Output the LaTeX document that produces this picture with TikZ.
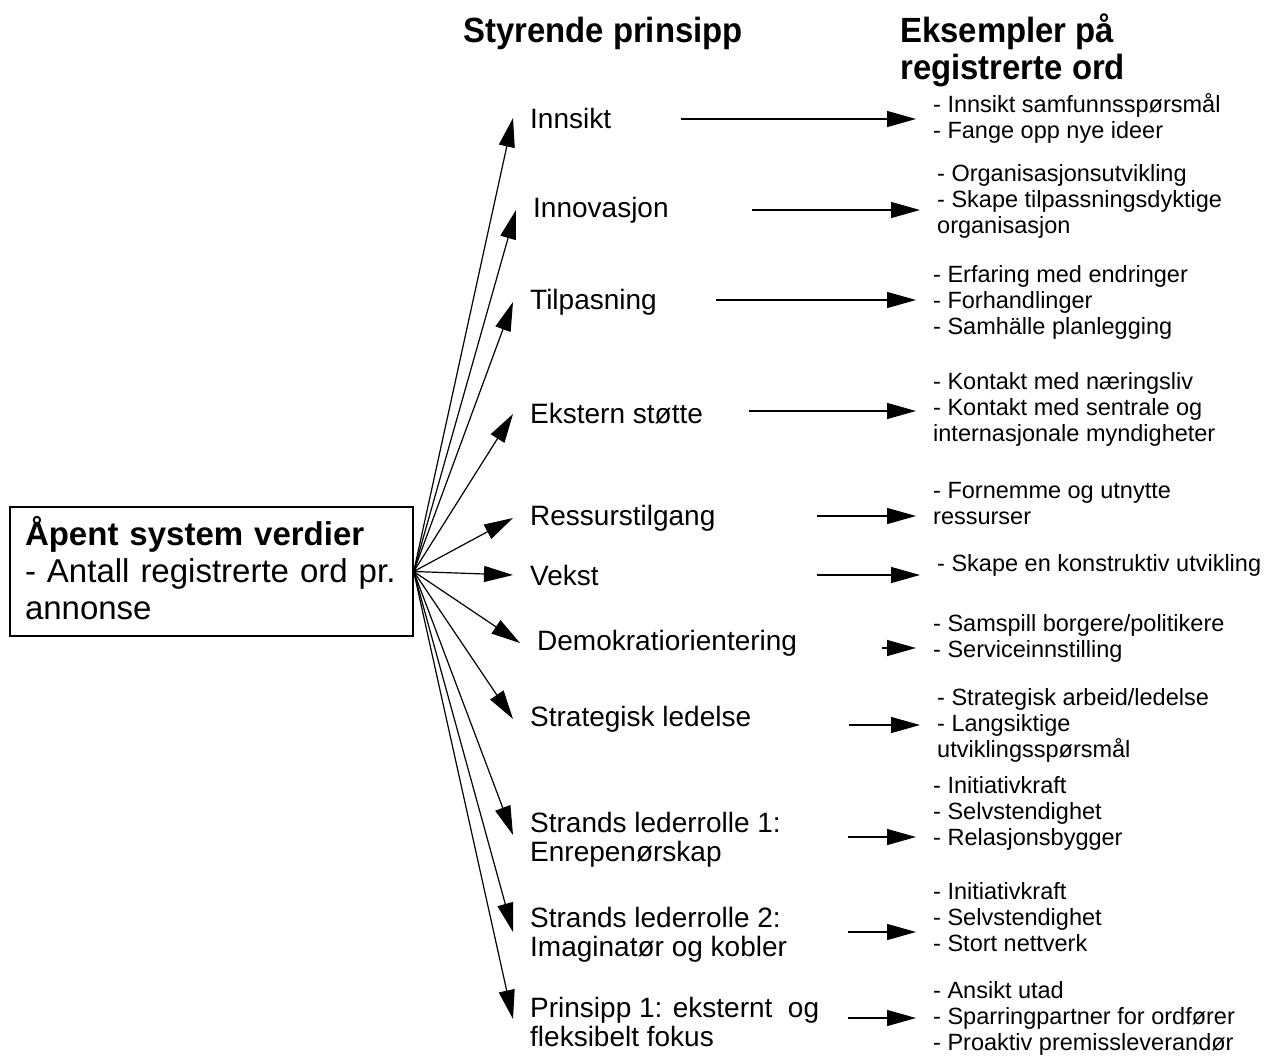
\documentclass[tikz,border=0pt]{standalone}
\usepackage{fontspec}
\setmainfont{Liberation Sans}
\newfontfamily\hdrfont[FakeStretch=0.94]{Liberation Sans}
\usetikzlibrary{arrows.meta}
\begin{document}
\begin{tikzpicture}[x=1pt,y=-1pt]
\tikzset{
  lbl/.style={anchor=west, inner xsep=17pt, inner ysep=0pt, align=left, font=\fontsize{28}{29}\selectfont},
  ex/.style={anchor=base west, inner xsep=17pt, inner ysep=0pt, align=left, font=\fontsize{23.5}{26}\selectfont},
  hdr/.style={anchor=base west, inner sep=0pt, align=left, font=\hdrfont\bfseries\fontsize{35}{37}\selectfont},
  arr/.style={line width=1.2pt, -{Triangle[length=29pt,width=16pt]}},
}
\fill[white] (0,0) rectangle (1266,1055);
\useasboundingbox (0,0) rectangle (1266,1055);

% headers (base anchor = last line's baseline)
\node[hdr] (h1) at (463,42) {Styrende prinsipp};
\node[hdr] (h2) at (900,79) {Eksempler på\\registrerte ord};

% source box
\node[draw, line width=1.4pt, minimum width=403pt, minimum height=129pt, text width=373pt,
      inner xsep=15pt, align=left, font=\fontsize{33}{37}\selectfont] (box) at (211.5,571.5)
  {\textbf{Åpent system verdier}\\- Antall registrerte ord pr.\\annonse\rule[-8pt]{0pt}{0pt}};

% middle labels
\node[lbl] (m1) at (513,118) {Innsikt};
\node[lbl] (m2) at (516,210) {Innovasjon};
\node[lbl] (m3) at (513,302) {Tilpasning};
\node[lbl] (m4) at (513,414) {Ekstern støtte};
\node[lbl] (m5) at (513,518) {Ressurstilgang};
\node[lbl] (m6) at (513,575) {Vekst};
\node[lbl] (m7) at (520,643) {Demokratiorientering};
\node[lbl] (m8) at (513,719) {Strategisk ledelse};
\node[lbl] (m9) at (513,840) {Strands lederrolle 1:\\Enrepenørskap};
\node[lbl] (m10) at (513,935) {Strands lederrolle 2:\\Imaginatør og kobler};
\node[lbl] (m11) at (513,1022) {Prinsipp 1: eksternt~ og\\fleksibelt fokus};

% fan arrows
\foreach \i in {1,...,8} \draw[arr] (box.east) -- (m\i.west);
\draw[arr] (box.east) -- ([yshift=5pt]m9.west);
\draw[arr] (box.east) -- ([yshift=3pt]m10.west);
\draw[arr] (box.east) -- ([yshift=3pt]m11.west);

% example groups (base anchor = last line's baseline)
\node[ex] (r1) at (916,138) {- Innsikt samfunnsspørsmål\\- Fange opp nye ideer};
\node[ex] (r2) at (920,233) {- Organisasjonsutvikling\\- Skape tilpassningsdyktige\\organisasjon};
\node[ex] (r3) at (916,334) {- Erfaring med endringer\\- Forhandlinger\\- Samhälle planlegging};
\node[ex] (r4) at (916,441) {- Kontakt med næringsliv\\- Kontakt med sentrale og\\internasjonale myndigheter};
\node[ex] (r5) at (916,524) {- Fornemme og utnytte\\ressurser};
\node[ex] (r6) at (920,571) {- Skape en konstruktiv utvikling};
\node[ex] (r7) at (916,657) {- Samspill borgere/politikere\\- Serviceinnstilling};
\node[ex] (r8) at (920,757) {- Strategisk arbeid/ledelse\\- Langsiktige\\utviklingsspørsmål};
\node[ex] (r9) at (916,845) {- Initiativkraft\\- Selvstendighet\\- Relasjonsbygger};
\node[ex] (r10) at (916,951) {- Initiativkraft\\- Selvstendighet\\- Stort nettverk};
\node[ex] (r11) at (916,1050) {- Ansikt utad\\- Sparringpartner for ordfører\\- Proaktiv premissleverandør};

% horizontal arrow starts
\coordinate (s1) at (681,119);
\coordinate (s2) at (752,210);
\coordinate (s3) at (716,300);
\coordinate (s4) at (749,411);
\coordinate (s5) at (817,516);
\coordinate (s6) at (817,575);
\coordinate (s7) at (882,648);
\coordinate (s8) at (849,725);
\coordinate (s9) at (848,837);
\coordinate (s10) at (848,932);
\coordinate (s11) at (848,1018);
\foreach \i in {1,...,11} \draw[arr] (s\i) -- (s\i -| r\i.west);
\end{tikzpicture}
\end{document}
